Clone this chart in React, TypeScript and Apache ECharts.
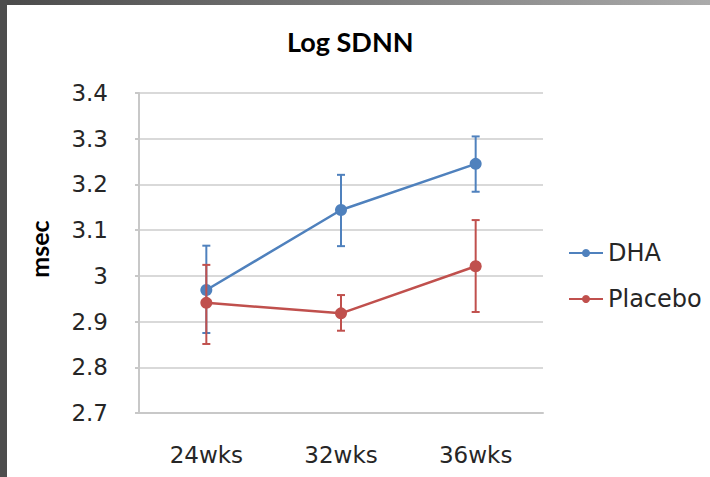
import React, { useEffect, useRef } from "react";
import * as echarts from "echarts";

const categories = ["24wks", "32wks", "36wks"];
const dhaValues = [2.969, 3.144, 3.245];
const dhaLow = [2.875, 3.065, 3.184];
const dhaHigh = [3.066, 3.221, 3.305];
const placeboValues = [2.941, 2.918, 3.021];
const placeboLow = [2.851, 2.880, 2.921];
const placeboHigh = [3.024, 2.958, 3.122];

const BLUE = "#4f81bd";
const RED = "#c0504d";

function errorSeries(name: string, low: number[], high: number[], color: string, z: number) {
  return {
    type: "custom",
    name: name + " error",
    z,
    silent: true,
    encode: { x: 0, y: [1, 2] },
    data: categories.map((_, i) => [i, low[i], high[i]]),
    renderItem: (params: any, api: any) => {
      const i = api.value(0);
      const lo = api.coord([i, api.value(1)]);
      const hi = api.coord([i, api.value(2)]);
      const hw = 4;
      const style = { stroke: color, lineWidth: 2 };
      return {
        type: "group",
        children: [
          { type: "line", shape: { x1: lo[0], y1: lo[1], x2: hi[0], y2: hi[1] }, style },
          { type: "line", shape: { x1: lo[0] - hw, y1: lo[1], x2: lo[0] + hw, y2: lo[1] }, style },
          { type: "line", shape: { x1: hi[0] - hw, y1: hi[1], x2: hi[0] + hw, y2: hi[1] }, style },
        ],
      };
    },
  };
}

export default function App() {
  const ref = useRef<HTMLDivElement>(null);
  useEffect(() => {
    if (!ref.current) return;
    const chart = echarts.init(ref.current, null, { renderer: "svg" });
    const labelFont = "DejaVu Sans";
    chart.setOption({
      animation: false,
      backgroundColor: "#ffffff",
      title: {
        text: "Log SDNN",
        left: 287,
        top: 28,
        padding: 0,
        textStyle: { fontFamily: "Lato", fontWeight: "bold", fontSize: 27, color: "#000" },
      },
      graphic: [
        {
          type: "rect",
          shape: { x: 0, y: 0, width: 710, height: 5 },
          style: {
            fill: new echarts.graphic.LinearGradient(0, 0, 1, 0, [
              { offset: 0, color: "#4a4a4a" },
              { offset: 1, color: "#ababab" },
            ]),
          },
          z: 100,
        },
        {
          type: "rect",
          shape: { x: 0, y: 0, width: 7, height: 477 },
          style: { fill: "#4d4d4d" },
          z: 101,
        },
      ],
      legend: {
        orient: "vertical",
        left: 568,
        top: 241,
        padding: 0,
        itemWidth: 34,
        itemHeight: 10,
        itemGap: 22,
        data: ["DHA", "Placebo"],
        textStyle: { fontFamily: labelFont, fontSize: 24, color: "#262626" },
      },
      grid: { left: 139, right: 167, top: 93, bottom: 64, containLabel: false },
      xAxis: {
        type: "category",
        data: categories,
        boundaryGap: true,
        axisLine: { show: true, lineStyle: { color: "#c8c8c8", width: 2 } },
        axisTick: { show: false },
        axisLabel: { margin: 30, fontFamily: labelFont, fontSize: 23, color: "#262626" },
      },
      yAxis: {
        type: "value",
        min: 2.7,
        max: 3.4,
        interval: 0.1,
        name: "msec",
        nameLocation: "middle",
        nameRotate: 90,
        nameGap: 88,
        nameTextStyle: { fontFamily: "Lato", fontWeight: "bold", fontSize: 25, color: "#000", padding: [0, 0, 0, 8] },
        axisLine: { show: true, lineStyle: { color: "#c8c8c8", width: 2 } },
        axisTick: { show: true, length: 4, lineStyle: { color: "#c8c8c8", width: 2 } },
        splitLine: { lineStyle: { color: "#d9d9d9", width: 2 } },
        axisLabel: {
          margin: 31,
          fontFamily: labelFont,
          fontSize: 23,
          color: "#262626",
          formatter: (v: number) => String(Math.round(v * 10) / 10),
        },
      },
      series: [
        errorSeries("DHA", dhaLow, dhaHigh, BLUE, 2),
        {
          type: "line",
          name: "DHA",
          data: dhaValues,
          z: 3,
          symbol: "circle",
          symbolSize: 12,
          itemStyle: { color: BLUE },
          lineStyle: { color: BLUE, width: 2.5 },
        },
        errorSeries("Placebo", placeboLow, placeboHigh, RED, 4),
        {
          type: "line",
          name: "Placebo",
          data: placeboValues,
          z: 5,
          symbol: "circle",
          symbolSize: 12,
          itemStyle: { color: RED },
          lineStyle: { color: RED, width: 2.5 },
        },
      ],
    });
    return () => chart.dispose();
  }, []);
  return (
    <div
      ref={ref}
      style={{ position: "fixed", left: 0, top: 0, width: 710, height: 477 }}
    />
  );
}
